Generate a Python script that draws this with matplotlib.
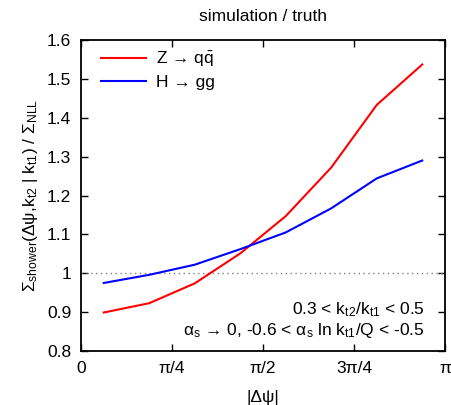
import numpy as np
import matplotlib
matplotlib.use('Agg')
import matplotlib.pyplot as plt

plt.rcParams['font.family'] = ['Liberation Sans', 'DejaVu Sans']
plt.rcParams['mathtext.fontset'] = 'custom'
plt.rcParams['mathtext.rm'] = 'Liberation Sans'
plt.rcParams['mathtext.it'] = 'Liberation Sans'
plt.rcParams['mathtext.default'] = 'rm'

# bin centres in |dpsi| and ratios
dpsi = np.pi / 16 * np.array([1, 3, 5, 7, 9, 11, 13, 15])
z_qq = [0.899, 0.923, 0.974, 1.051, 1.147, 1.272, 1.433, 1.537]
h_gg = [0.975, 0.996, 1.022, 1.062, 1.105, 1.167, 1.244, 1.290]

xticks = [0, np.pi / 4, np.pi / 2, 3 * np.pi / 4, np.pi]
xlabels = ['0', 'π/4', 'π/2', '3π/4', 'π']
yticks = [0.8, 0.9, 1.0, 1.1, 1.2, 1.3, 1.4, 1.5, 1.6]
ylabels = ['0.8', '0.9', '1', '1.1', '1.2', '1.3', '1.4', '1.5', '1.6']

fs = 12.5
fig = plt.figure(figsize=(4.51, 4.05), dpi=100)
ax = fig.add_axes([81 / 451, 1 - 351 / 405, 364 / 451, 311 / 405])

ax.axhline(1.0, color='#808080', lw=1, ls=(0, (1, 2.5)))
ax.plot(dpsi, z_qq, color='#ff0000', lw=1.5, label='Z → q$\\bar{\\mathrm{q}}$')
ax.plot(dpsi, h_gg, color='#0000ff', lw=1.5, label='H → gg')

ax.set_xlim(0, np.pi)
ax.set_ylim(0.8, 1.6)
ax.set_xticks(xticks)
ax.set_xticklabels(xlabels)
ax.set_yticks(yticks)
ax.set_yticklabels(ylabels)
ax.tick_params(direction='in', length=5, width=1, top=True, right=True, labelsize=fs, pad=7)
for s in ax.spines.values():
    s.set_linewidth(1.3)

ax.set_xlabel('|Δψ|', fontsize=fs, labelpad=10)
ax.set_ylabel('Σ$_{\\mathrm{shower}}$(Δψ,k$_{\\mathrm{t2}}$ | k$_{\\mathrm{t1}}$) / Σ$_{\\mathrm{NLL}}$',
              fontsize=fs, labelpad=5)
ax.set_title('simulation / truth', fontsize=fs, pad=14)

ax.legend(loc='upper left', bbox_to_anchor=(0.035, 0.99), frameon=False, fontsize=fs,
          handlelength=2.6, handletextpad=0.6, borderaxespad=0.0, labelspacing=0.3)

ax.text(0.945, 0.132, '0.3 < k$_{\\mathrm{t2}}$/k$_{\\mathrm{t1}}$ < 0.5', transform=ax.transAxes,
        ha='right', va='center', fontsize=fs)
ax.text(0.945, 0.065, 'α$_{\\mathrm{s}}$ → 0, -0.6 < α$_{\\mathrm{s}}$ ln k$_{\\mathrm{t1}}$/Q < -0.5',
        transform=ax.transAxes, ha='right', va='center', fontsize=fs)

fig.savefig('out.png', dpi=100)
